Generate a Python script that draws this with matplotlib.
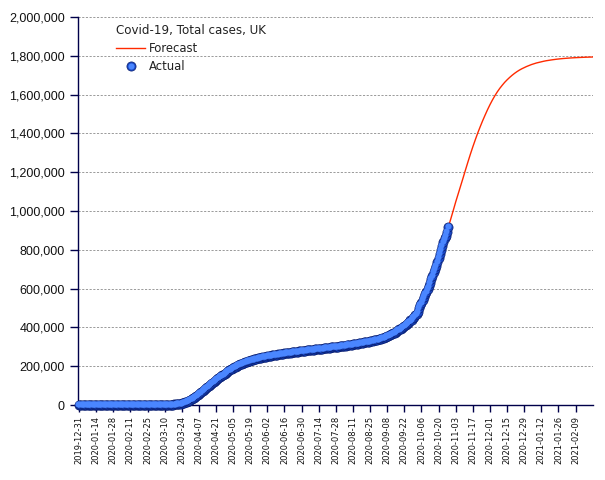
import matplotlib
matplotlib.use("Agg")
import matplotlib.pyplot as plt
import matplotlib.dates as mdates
from matplotlib.ticker import FuncFormatter, MultipleLocator
from matplotlib.transforms import offset_copy
from matplotlib.lines import Line2D
from matplotlib.legend_handler import HandlerTuple
import pandas as pd

# ---------------- data ----------------
cases_dec2019 = [0]
cases_jan = [0] * 30 + [2]
cases_feb = [2, 2, 2, 2, 2, 3, 3, 3, 4, 8, 8, 8, 9, 9, 9, 9, 9, 9, 9, 9, 9, 9, 9, 9, 9, 13, 13, 20, 23]
cases_mar = [36, 40, 51, 85, 115, 163, 206, 273, 321, 373, 456, 590, 798, 1140, 1391, 1543, 1950,
             2626, 3269, 3983, 5018, 5683, 6650, 8077, 9529, 11658, 14543, 17089, 19522, 22141, 25150]
cases_apr = [29474, 33718, 38168, 41903, 47806, 51608, 55242, 60733, 65077, 73758, 78991, 84279,
             88621, 93873, 98476, 103093, 108692, 114217, 120067, 124743, 129044, 133495, 138078,
             143464, 148377, 152840, 157149, 161145, 165221, 171253]
cases_may = [175000, 179300, 183200, 186800, 190500, 194400, 198100, 201600, 204900, 207900,
             210700, 213300, 215800, 218300, 220700, 223000, 225100, 227100, 229100, 231100,
             233000, 234900, 236600, 238200, 239800, 241400, 243000, 244500, 245900, 247200, 248500]
cases_jun = [249700, 251000, 252300, 253500, 254700, 255800, 256800, 257800, 258900, 260000,
             261100, 262100, 263100, 264000, 264900, 265900, 266900, 267800, 268700, 269600,
             270400, 271200, 272100, 273000, 273900, 274800, 275600, 276400, 277200, 278000]
cases_jul = [278800, 279600, 280400, 281200, 281900, 282600, 283400, 284200, 285000, 285800,
             286600, 287300, 288000, 288800, 289600, 290400, 291200, 292000, 292700, 293400,
             294200, 295000, 295800, 296700, 297500, 298200, 298900, 299700, 300500, 301400, 302300]
cases_aug = [303200, 304000, 304800, 305700, 306600, 307600, 308600, 309500, 310400, 311300,
             312300, 313400, 314500, 315600, 316700, 317700, 318700, 319800, 321000, 322200,
             323400, 324500, 325600, 326800, 328100, 329500, 330900, 332500, 334000, 335400, 336800]
cases_sep = [338400, 340200, 342000, 343900, 346000, 348500, 351500, 354300, 357200, 360100,
             363500, 367000, 370200, 373400, 377000, 381000, 385000, 389300, 393700, 397800,
             402300, 407100, 412000, 418000, 424200, 430000, 435800, 440600, 448000, 455500]
cases_oct = [462600, 469500, 481000, 500000, 514000, 527000, 541000, 556500, 570500, 585000,
             597800, 611000, 629000, 648000, 666000, 686000, 703500, 719000, 737000, 758000,
             779000, 800500, 820000, 842000, 859000, 873000, 893000, 917000]

actual = (cases_dec2019 + cases_jan + cases_feb + cases_mar + cases_apr + cases_may +
          cases_jun + cases_jul + cases_aug + cases_sep + cases_oct)
actual_start = "2019-12-31"

# forecast, every second day from 2020-10-28
forecast = [917000, 960000, 1003000, 1047000, 1088000, 1129000, 1170000, 1212000, 1253000,
            1293000, 1331000, 1367000, 1402000, 1434000, 1465000, 1494000, 1522000,
            1548000, 1572000, 1594000, 1614000, 1632000, 1648000, 1663000, 1676000, 1688000,
            1699000, 1709000, 1718000, 1726000, 1733000, 1739000, 1745000,
            1750000, 1755000, 1759000, 1763000, 1766000, 1769000, 1772000, 1774500, 1776500,
            1778500, 1780300, 1782000, 1783500, 1784800, 1786000,
            1787000, 1788000, 1788900, 1789700, 1790400, 1791000, 1791600, 1792100, 1792600,
            1793000, 1793400, 1793800]
forecast_start = "2020-10-28"

tick_start = "2019-12-31"
tick_end = "2021-02-09"

title = "Covid-19, Total cases, UK"
label_forecast = "Forecast"
label_actual = "Actual"

# ---------------- plot ----------------
dates_act = pd.date_range(actual_start, periods=len(actual), freq="D")
dates_fc = pd.date_range(forecast_start, periods=len(forecast), freq="2D")
ticks = pd.date_range(tick_start, tick_end, freq="14D")

fig = plt.figure(figsize=(6.05, 4.80), dpi=100)
ax = fig.add_axes([78 / 605, 1 - 405 / 480, (593 - 78) / 605, (405 - 17) / 480])

navy = "#00004a"
for s in ["top", "right"]:
    ax.spines[s].set_visible(False)
for s in ["left", "bottom"]:
    ax.spines[s].set_color(navy)
    ax.spines[s].set_linewidth(1.0)

ax.set_ylim(0, 2000000)
ax.yaxis.set_major_locator(MultipleLocator(200000))
ax.yaxis.set_major_formatter(FuncFormatter(lambda v, p: f"{int(v):,}"))
ax.set_xlim(pd.Timestamp(tick_start) - pd.Timedelta(hours=20), pd.Timestamp("2021-02-23") + pd.Timedelta(hours=6))
ax.set_xticks(ticks)
ax.xaxis.set_major_formatter(mdates.DateFormatter("%Y-%m-%d"))

ax.tick_params(axis="y", length=6, width=1, color=navy, pad=3.5, labelsize=9.0, labelcolor="#111111")
ax.tick_params(axis="x", length=5, width=1, color=navy, pad=3, labelsize=6.0, labelcolor="#111111",
               rotation=90)
for lab in ax.get_yticklabels():
    lab.set_fontfamily("Liberation Sans")
for lab in ax.get_xticklabels():
    lab.set_fontfamily("DejaVu Sans")

ax.grid(axis="y", color="#9a9a9a", linestyle=(0, (2.2, 1.6)), linewidth=0.7)
ax.set_axisbelow(True)

# forecast line
fc_line, = ax.plot(dates_fc, forecast, color="#ff2a00", linewidth=1.0, zorder=2)

# actual spheres: dark base + offset light highlight
base_kw = dict(linestyle="none", marker="o", markersize=6.6, markerfacecolor="#1846c4",
               markeredgecolor="#0a1f70", markeredgewidth=0.5)
ax.plot(dates_act, actual, zorder=3, clip_on=False, **base_kw)
hl = offset_copy(ax.transData, fig=fig, x=-0.6, y=0.6, units="points")
hl_kw = dict(linestyle="none", marker="o", markersize=4.4, markerfacecolor="#4a86ff",
             markeredgecolor="none")
ax.plot(dates_act, actual, transform=hl, zorder=4, clip_on=False, **hl_kw)

h_base = Line2D([], [], **base_kw)
h_hl = Line2D([], [], **hl_kw)
leg = ax.legend([fc_line, (h_base, h_hl)], [label_forecast, label_actual],
                handler_map={tuple: HandlerTuple(ndivide=1, pad=0)},
                title=title, loc="upper left", bbox_to_anchor=(0.065, 0.995),
                frameon=False, fontsize=8.4, title_fontsize=8.6, handlelength=2.5,
                handletextpad=0.3, labelspacing=0.45, borderaxespad=0.0, numpoints=1)
leg._legend_box.align = "left"
for t in leg.get_texts():
    t.set_color("#222222")
leg.get_title().set_color("#222222")

fig.savefig("out.png", dpi=100)
